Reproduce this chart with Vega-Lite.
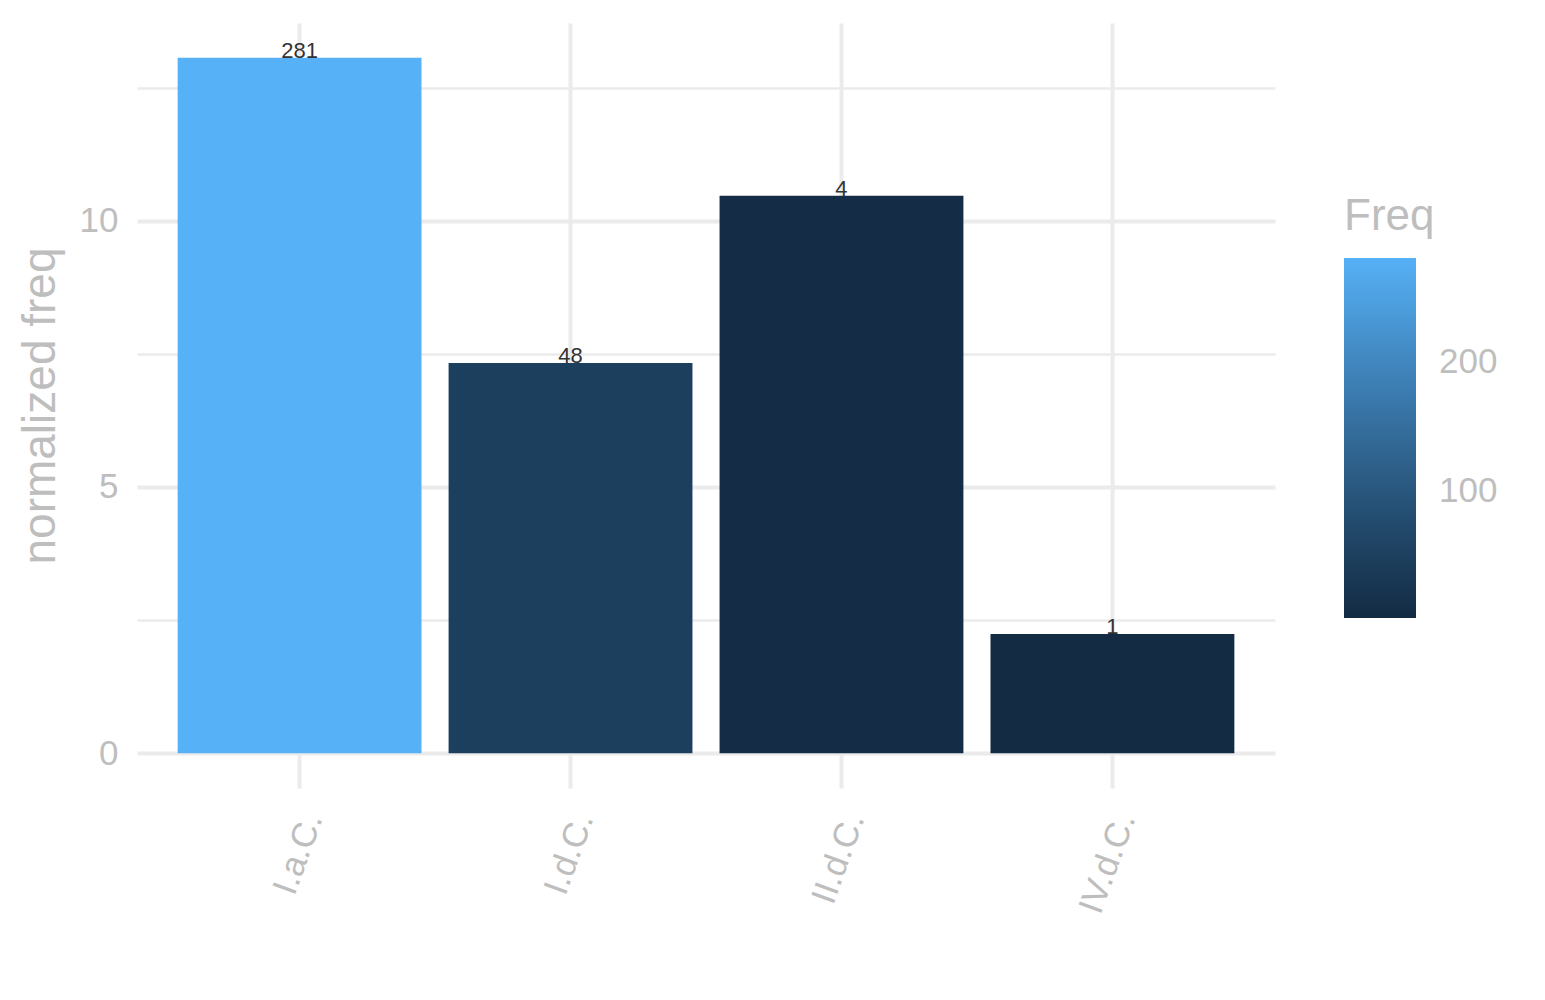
{
  "$schema": "https://vega.github.io/schema/vega-lite/v6.json",
  "width": 1138,
  "height": 765,
  "autosize": {"type": "none"},
  "padding": {"left": 137, "top": 23, "right": 270, "bottom": 212},
  "background": "white",
  "config": {
    "view": {"stroke": null},
    "font": "Liberation Sans"
  },
  "data": {
    "values": [
      {"class": "I.a.C.", "Freq": 281, "norm": 13.06},
      {"class": "I.d.C.", "Freq": 48, "norm": 7.33},
      {"class": "II.d.C.", "Freq": 4, "norm": 10.47},
      {"class": "IV.d.C.", "Freq": 1, "norm": 2.24}
    ]
  },
  "encoding": {
    "x": {
      "field": "class",
      "type": "nominal",
      "sort": null,
      "scale": {"paddingInner": 0.1, "paddingOuter": 0.15},
      "axis": {
        "title": null,
        "labelAngle": -70,
        "labelAlign": "right",
        "labelBaseline": "middle",
        "labelFontSize": 35,
        "labelColor": "#BEBEBE",
        "labelPadding": 26,
        "labelOffset": 13,
        "domain": false,
        "ticks": false,
        "grid": true,
        "gridColor": "#EBEBEB",
        "gridWidth": 4,
        "bandPosition": 0.5
      }
    },
    "y": {
      "field": "norm",
      "type": "quantitative",
      "scale": {"domain": [-0.653, 13.713], "nice": false, "zero": false},
      "axis": {
        "title": "normalized freq",
        "values": [0, 2.5, 5, 7.5, 10, 12.5],
        "labelExpr": "datum.value % 5 === 0 ? format(datum.value, 'd') : ''",
        "labelFontSize": 35,
        "labelColor": "#BEBEBE",
        "labelPadding": 19,
        "domain": false,
        "ticks": false,
        "tickSize": 0,
        "grid": true,
        "gridColor": "#EBEBEB",
        "gridWidth": {"condition": {"test": "datum.value % 5 === 0", "value": 4}, "value": 2.5},
        "titleFontSize": 46,
        "titleFontWeight": "normal",
        "titleColor": "#BEBEBE",
        "titlePadding": 15
      }
    }
  },
  "layer": [
    {
      "mark": {"type": "bar"},
      "encoding": {
        "y2": {"datum": 0},
        "color": {
          "field": "Freq",
          "type": "quantitative",
          "scale": {"domain": [1, 281], "range": ["#132B43", "#56B1F7"], "interpolate": "lab"},
          "legend": {
            "title": "Freq",
            "orient": "none",
            "legendX": 1207,
            "legendY": 172,
            "direction": "vertical",
            "gradientLength": 360,
            "gradientThickness": 72,
            "gradientStrokeWidth": 0,
            "values": [100, 200],
            "labelFontSize": 35,
            "labelColor": "#BEBEBE",
            "labelOffset": 23,
            "titleFontSize": 44,
            "titleFontWeight": "normal",
            "titleColor": "#BEBEBE",
            "titlePadding": 19
          }
        }
      }
    },
    {
      "mark": {"type": "text", "baseline": "alphabetic", "fontSize": 22, "color": "#333333"},
      "encoding": {
        "text": {"field": "Freq", "type": "quantitative"}
      }
    }
  ]
}
